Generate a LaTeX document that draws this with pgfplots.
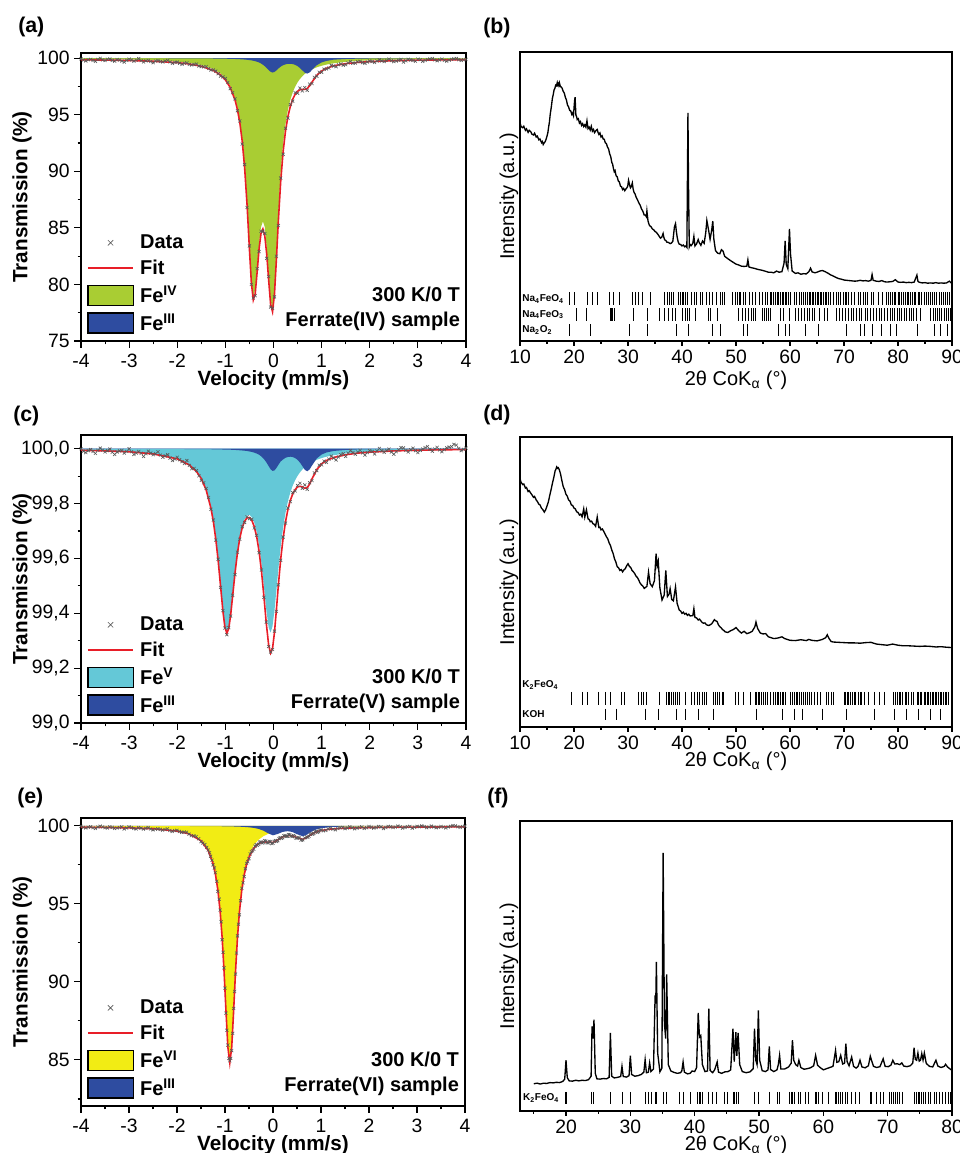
\documentclass[border=0pt]{standalone}
\usepackage{fontspec}
\setmainfont{Liberation Sans}
\setsansfont{Liberation Sans}
\usepackage{pgfplots}
\pgfplotsset{compat=1.18}
\usepackage{pgfplotstable}

\definecolor{fegreen}{RGB}{169,205,51}
\definecolor{feblue}{RGB}{46,76,160}
\definecolor{fecyan}{RGB}{100,200,215}
\definecolor{feyellow}{RGB}{242,236,20}
\definecolor{fitred}{RGB}{232,30,40}

\pgfplotsset{
  boxaxis/.style={scale only axis, tick pos=left, tick align=outside,
    axis line style={line width=0.9pt}, every tick/.style={black, line width=0.8pt},
    /pgf/number format/assume math mode=true,
    tick label style={font=\fontsize{14.5}{17}\selectfont}},
  moss/.style={boxaxis, width=288.75pt, height=216pt, xmin=-4, xmax=4,
    xtick={-4,-3,...,4}, minor xtick={-3.5,-2.5,...,3.5},
    major tick length=5pt, minor tick length=2.5pt,
    xticklabel style={yshift=-1.5pt},
    xlabel={Velocity (mm/s)}, ylabel={Transmission (\%)},
    label style={font=\bfseries\fontsize{15.5}{18}\selectfont},
    ylabel style={at={(axis description cs:-0.153,0.5)}, anchor=center},
    xlabel style={at={(axis description cs:0.5,-0.137)}, anchor=center},
    legend style={at={(axis description cs:0.015,0.022)}, anchor=south west,
      draw=none, fill=none, inner sep=0pt, row sep=4pt,
      font=\bfseries\fontsize{15}{18}\selectfont, nodes={inner sep=1.5pt},
      /tikz/column 1/.style={column sep=3pt}},
    legend cell align=left},
  xrd/.style={boxaxis, width=324pt, ymin=0, ymax=100, ytick=\empty,
    major tick length=3.5pt, minor tick length=2pt,
    xlabel={2θ CoK\textsubscript{α} (°)}, ylabel={Intensity (a.u.)},
    label style={font=\fontsize{15}{18}\selectfont},
    ylabel style={at={(axis description cs:-0.0255,0.5)}, anchor=center},
    xlabel style={at={(axis description cs:0.5,-0.118)}, anchor=center}},
  datastyle/.style={only marks, mark=x, mark size=1.6pt, black!65,
    mark options={line width=0.45pt}, forget plot},
  fitstyle/.style={fitred, line width=1.2pt, forget plot},
  tickrow/.style={only marks, mark=|, black, mark options={line width=0.6pt}, forget plot},
  xrdline/.style={black, line width=1pt, forget plot}
}
\tikzset{
  note/.style={anchor=south east, align=right, inner sep=0pt,
    font=\bfseries\fontsize{15}{18.75}\selectfont},
  phase/.style={anchor=west, inner sep=0pt, font=\bfseries\fontsize{7.5}{9}\selectfont},
  panel/.style={anchor=west, inner sep=0pt, font=\bfseries\fontsize{16}{19}\selectfont}
}

\newcommand{\mosslegend}[2]{%
  \addlegendimage{legend image code/.code={\draw[black!65,line width=0.5pt] (15pt,-2pt)--(19pt,2pt) (15pt,2pt)--(19pt,-2pt);}}
  \addlegendentry{Data}
  \addlegendimage{legend image code/.code={\draw[draw=fitred,line width=1.3pt] (0pt,0pt)--(34pt,0pt);}}
  \addlegendentry{Fit}
  \addlegendimage{legend image code/.code={\draw[fill=#1,draw=black,line width=1pt] (0pt,-7.5pt) rectangle (34pt,7.5pt);}}
  \addlegendentry{Fe\textsuperscript{#2}}
  \addlegendimage{legend image code/.code={\draw[fill=feblue,draw=black,line width=1pt] (0pt,-7.5pt) rectangle (34pt,7.5pt);}}
  \addlegendentry{Fe\textsuperscript{III}}}

% ---------- (a) Ferrate(IV): fit and sub-spectra (first/last rows close the fills at 100) ----------
\pgfplotstableread{
v fit grn blu
-4 nan 100 100
-4 99.85 99.946 99.994
-3.5 99.825 99.911 99.994
-3 99.79 99.876 99.9925
-2.5 99.72 99.8145 99.99
-2 99.60 99.692 99.984
-1.75 99.48 99.579 99.98
-1.5 99.28 99.389 99.974
-1.25 98.91 99.029 99.964
-1.1 98.51 98.632 99.955
-1 98.08 98.212 99.946
-0.9 97.41 97.558 99.936
-0.8 96.31 96.467 99.921
-0.75 95.46 95.631 99.912
-0.7 94.30 94.475 99.90
-0.65 92.66 92.845 99.89
-0.6 90.32 90.526 99.87
-0.55 87.08 87.31 99.85
-0.5 83.09 83.35 99.823
-0.46 80.15 80.43 99.80
-0.42 78.63 78.95 99.766
-0.38 79.18 79.54 99.726
-0.34 81.10 81.50 99.676
-0.30 83.14 83.61 99.611
-0.26 84.50 85.06 99.524
-0.22 84.90 85.56 99.416
-0.18 84.26 85.06 99.28
-0.14 82.64 83.2 99.115
-0.10 80.35 80.8 98.935
-0.06 78.25 78.6 98.788
-0.02 77.59 77.85 98.723
0.02 79.13 79.5 98.776
0.06 82.18 82.7 98.909
0.10 85.55 86.1 99.07
0.15 89.13 89.96 99.251
0.20 91.74 92.445 99.37
0.25 93.57 94.194 99.452
0.30 94.84 95.429 99.493
0.35 95.74 96.32 99.499
0.40 96.37 96.977 99.47
0.45 96.80 97.474 99.403
0.50 97.07 97.857 99.29
0.55 97.20 98.159 99.124
0.60 97.24 98.401 98.914
0.65 97.23 98.597 98.712
0.70 97.31 98.759 98.629
0.75 97.55 98.894 98.731
0.80 97.88 99.009 98.952
0.90 98.48 99.189 99.374
1.00 98.86 99.324 99.62
1.10 99.10 99.427 99.751
1.25 99.32 99.543 99.861
1.50 99.51 99.67 99.92
1.75 99.62 99.75 99.95
2.00 99.69 99.804 99.966
2.50 99.77 99.87 99.981
3.00 99.82 99.908 99.988
3.50 99.84 99.931 99.992
4.00 99.86 99.946 99.994
4 nan 100 100
}\tabA

\pgfplotstableread{
v t
-4.0 99.93
-3.95 99.82
-3.9 99.745
-3.85 99.86
-3.8 99.89
-3.75 99.79
-3.7 99.715
-3.65 99.88
-3.6 99.98
-3.55 99.84
-3.5 99.785
-3.45 99.90
-3.4 99.92
-3.35 99.80
-3.3 99.73
-3.25 99.87
-3.2 99.825
-3.15 99.74
-3.1 99.65
-3.05 99.80
-3.0 99.91
-2.95 99.84
-2.9 99.73
-2.85 99.82
-2.8 99.95
-2.75 99.78
-2.7 99.655
-2.65 99.76
-2.6 99.80
-2.55 99.70
-2.5 99.59
-2.45 99.74
-2.4 99.79
-2.35 99.70
-2.3 99.66
-2.25 99.75
-2.2 99.80
-2.15 99.66
-2.1 99.54
-2.05 99.63
-2.0 99.64
-1.95 99.55
-1.9 99.45
-1.85 99.55
-1.8 99.58
-1.75 99.44
-1.7 99.39
-1.65 99.44
-1.6 99.48
-1.55 99.30
-1.5 99.25
-1.45 99.23
-1.4 99.25
-1.35 99.08
-1.3 98.95
-1.25 98.96
-1.2 98.85
-1.15 98.62
-1.1 98.41
-1.05 98.34
-1.0 98.20
-0.95 97.85
-0.9 97.30
-0.85 96.95
-0.8 96.40
-0.75 95.35
-0.7 94.45
-0.65 92.40
-0.6 90.60
-0.55 86.80
-0.5 83.40
-0.46 80.00
-0.42 78.80
-0.38 79.00
-0.34 81.40
-0.30 82.90
-0.26 84.70
-0.22 84.70
-0.18 84.50
-0.14 82.30
-0.10 80.70
-0.06 78.00
-0.02 77.90
0.02 78.90
0.06 82.50
0.10 85.20
0.15 89.40
0.20 91.50
0.25 93.80
0.30 94.70
0.35 95.90
0.40 96.20
0.45 96.95
0.50 96.90
0.55 97.35
0.60 97.10
0.65 97.40
0.70 97.15
0.75 97.70
0.80 97.75
0.85 98.30
0.90 98.40
0.95 98.75
1.00 98.75
1.05 99.02
1.1 99.04
1.15 99.12
1.2 99.36
1.25 99.30
1.3 99.24
1.35 99.41
1.4 99.49
1.45 99.38
1.5 99.42
1.55 99.58
1.6 99.70
1.65 99.55
1.7 99.56
1.75 99.68
1.8 99.715
1.85 99.60
1.9 99.535
1.95 99.66
2.0 99.75
2.05 99.70
2.1 99.61
2.15 99.74
2.2 99.85
2.25 99.76
2.3 99.695
2.35 99.80
2.4 99.92
2.45 99.78
2.5 99.69
2.55 99.74
2.6 99.81
2.65 99.88
2.7 99.65
2.75 99.76
2.8 99.90
2.85 99.83
2.9 99.79
2.95 99.72
3.0 99.91
3.05 99.86
3.1 99.714
3.15 99.80
3.2 99.878
3.25 99.92
3.3 99.962
3.35 99.85
3.4 99.766
3.45 99.84
3.5 99.92
3.55 99.80
3.6 99.724
3.65 99.82
3.7 99.888
3.75 99.93
3.8 99.962
3.85 99.87
3.9 99.796
3.95 99.84
4.0 99.88
}\datA

% ---------- (c) Ferrate(V) ----------
\pgfplotstableread{
v fit cyn blu
-4 nan 100 100
-4 99.9945 99.9947 99.9998
-3.5 99.992 99.9926 99.9997
-3 99.989 99.9891 99.9996
-2.5 99.981 99.982 99.9994
-2 99.963 99.9642 99.9991
-1.75 99.941 99.9426 99.9989
-1.6 99.917 99.9183 99.9987
-1.5 99.891 99.8922 99.9985
-1.4 99.850 99.8516 99.9983
-1.3 99.783 99.7852 99.9981
-1.25 99.735 99.7366 99.998
-1.2 99.671 99.6738 99.9977
-1.15 99.592 99.5946 99.9975
-1.1 99.499 99.5021 99.9973
-1.05 99.406 99.4092 99.9971
-1.01 99.350 99.353 99.997
-0.97 99.327 99.3299 99.9967
-0.93 99.344 99.3471 99.9965
-0.89 99.394 99.3974 99.9963
-0.85 99.461 99.4649 99.996
-0.8 99.546 99.5508 99.9955
-0.75 99.619 99.6239 99.995
-0.7 99.674 99.6795 99.9943
-0.65 99.712 99.7187 99.9936
-0.6 99.736 99.7438 99.9927
-0.55 99.748 99.7568 99.9916
-0.5 99.749 99.7589 99.9901
-0.45 99.739 99.7503 99.9883
-0.4 99.716 99.7303 99.9857
-0.35 99.680 99.697 99.9825
-0.3 99.626 99.6482 99.978
-0.25 99.554 99.5821 99.9717
-0.2 99.463 99.5001 99.9629
-0.15 99.364 99.4135 99.9509
-0.1 99.283 99.3471 99.9362
-0.06 99.255 99.3299 99.9252
-0.02 99.272 99.353 99.9191
0.02 99.330 99.4092 99.9208
0.06 99.412 99.4829 99.9295
0.1 99.500 99.559 99.9408
0.15 99.598 99.6441 99.9538
0.2 99.674 99.7134 99.961
0.25 99.734 99.7673 99.9669
0.3 99.779 99.8089 99.970
0.35 99.812 99.8408 99.9709
0.4 99.835 99.8658 99.9696
0.45 99.851 99.8855 99.9659
0.5 99.861 99.9012 99.9595
0.55 99.863 99.9139 99.9495
0.6 99.861 99.9243 99.9364
0.65 99.856 99.9329 99.9233
0.7 99.858 99.9401 99.9178
0.75 99.871 99.9462 99.9245
0.8 99.890 99.9513 99.9387
0.9 99.924 99.9596 99.9647
1.0 99.945 99.966 99.9789
1.1 99.957 99.9709 99.9863
1.25 99.968 99.9764 99.9918
1.5 99.978 99.9826 99.9956
1.75 99.984 99.9867 99.9973
2 99.9875 99.9893 99.9982
2.5 99.992 99.9929 99.999
3 99.9945 99.9949 99.9994
3.5 99.996 99.9962 99.9996
4 99.997 99.997 99.9997
4 nan 100 100
}\tabC

\pgfplotstableread{
v t
-4.0 100.000
-3.95 99.991
-3.9 99.986
-3.85 99.993
-3.8 99.997
-3.75 99.990
-3.7 99.983
-3.65 99.994
-3.6 100.002
-3.55 99.995
-3.5 99.988
-3.45 99.993
-3.4 99.999
-3.35 99.987
-3.3 99.979
-3.25 99.988
-3.2 99.992
-3.15 99.994
-3.1 99.984
-3.05 99.990
-3.0 100.000
-2.95 99.989
-2.9 99.979
-2.85 99.984
-2.8 99.990
-2.75 99.983
-2.7 99.972
-2.65 99.982
-2.6 99.991
-2.55 99.984
-2.5 99.978
-2.45 99.982
-2.4 99.989
-2.35 99.977
-2.3 99.969
-2.25 99.974
-2.2 99.978
-2.15 99.966
-2.1 99.957
-2.05 99.962
-2.0 99.969
-1.95 99.960
-1.9 99.953
-1.85 99.946
-1.8 99.957
-1.75 99.939
-1.7 99.927
-1.65 99.928
-1.6 99.920
-1.55 99.901
-1.5 99.885
-1.45 99.876
-1.4 99.855
-1.35 99.822
-1.3 99.779
-1.25 99.740
-1.2 99.667
-1.15 99.597
-1.1 99.494
-1.05 99.410
-1.01 99.346
-0.97 99.322
-0.93 99.348
-0.89 99.390
-0.85 99.466
-0.8 99.541
-0.75 99.623
-0.7 99.670
-0.65 99.716
-0.6 99.731
-0.55 99.752
-0.5 99.745
-0.45 99.743
-0.4 99.711
-0.35 99.684
-0.3 99.621
-0.25 99.558
-0.2 99.458
-0.15 99.368
-0.1 99.279
-0.06 99.259
-0.02 99.268
0.02 99.335
0.06 99.407
0.1 99.504
0.15 99.593
0.2 99.678
0.25 99.729
0.3 99.784
0.35 99.807
0.4 99.840
0.45 99.846
0.5 99.866
0.55 99.874
0.6 99.856
0.65 99.868
0.7 99.852
0.75 99.876
0.8 99.884
0.85 99.912
0.9 99.920
0.95 99.940
1.0 99.941
1.05 99.955
1.1 99.950
1.15 99.962
1.2 99.973
1.25 99.966
1.3 99.959
1.35 99.970
1.4 99.978
1.45 99.982
1.5 99.972
1.55 99.984
1.6 99.993
1.65 99.986
1.7 99.980
1.75 99.988
1.8 99.994
1.85 99.985
1.9 99.977
1.95 99.986
2.0 99.993
2.05 99.990
2.1 99.981
2.15 99.992
2.2 100.001
2.25 99.993
2.3 99.987
2.35 99.994
2.4 99.999
2.45 99.988
2.5 99.980
2.55 99.989
2.6 99.996
2.65 100.004
2.7 100.003
2.75 99.994
2.8 99.988
2.85 99.996
2.9 100.002
2.95 99.993
3.0 99.986
3.05 99.994
3.1 99.999
3.15 100.004
3.2 100.008
3.25 99.998
3.3 99.991
3.35 99.999
3.4 100.005
3.45 99.996
3.5 99.989
3.55 99.997
3.6 100.003
3.65 100.006
3.7 100.008
3.75 100.016
3.8 100.013
3.85 100.001
3.9 99.993
3.95 99.998
4.0 100.002
}\datC

% ---------- (e) Ferrate(VI) ----------
\pgfplotstableread{
v fit yel blu
-4 nan 100 100
-4 99.912 99.965 99.998
-3.5 99.897 99.950 99.997
-3 99.869 99.923 99.996
-2.5 99.8125 99.8685 99.994
-2 99.665 99.724 99.991
-1.75 99.4825 99.544 99.9885
-1.5 99.047 99.112 99.985
-1.35 98.422 98.49 99.982
-1.25 97.586 97.657 99.979
-1.2 96.908 96.98 99.978
-1.15 95.929 96.003 99.976
-1.1 94.488 94.564 99.974
-1.06 92.859 92.937 99.972
-1.02 90.713 90.793 99.970
-0.98 88.162 88.243 99.969
-0.94 85.818 85.902 99.966
-0.9 84.814 84.90 99.964
-0.86 85.813 85.902 99.961
-0.82 88.15 88.243 99.957
-0.78 90.697 90.793 99.954
-0.74 92.836 92.937 99.949
-0.7 94.459 94.564 99.945
-0.65 95.89 96.003 99.937
-0.6 96.859 96.98 99.929
-0.55 97.525 97.657 99.918
-0.5 97.993 98.138 99.905
-0.4 98.57 98.753 99.867
-0.3 98.865 99.112 99.803
-0.2 98.977 99.337 99.69
-0.1 98.953 99.487 99.516
0 98.934 99.592 99.392
0.1 99.098 99.668 99.48
0.2 99.284 99.724 99.61
0.3 99.375 99.768 99.657
0.4 99.362 99.802 99.61
0.5 99.247 99.829 99.468
0.62 99.133 99.854 99.329
0.7 99.2425 99.8685 99.424
0.8 99.458 99.883 99.625
0.9 99.611 99.896 99.765
1.0 99.70 99.906 99.844
1.2 99.792 99.923 99.919
1.5 99.851 99.941 99.96
2 99.892 99.96 99.982
2.5 99.911 99.971 99.99
3 99.921 99.978 99.993
3.5 99.9275 99.9825 99.995
4 99.932 99.986 99.996
4 nan 100 100
}\tabE

\pgfplotstableread{
v t
-4.0 99.97
-3.95 99.90
-3.9 99.86
-3.85 99.91
-3.8 99.94
-3.75 99.88
-3.7 99.83
-3.65 99.92
-3.6 99.98
-3.55 99.93
-3.5 99.88
-3.45 99.86
-3.4 99.94
-3.35 99.90
-3.3 99.83
-3.25 99.86
-3.2 99.89
-3.15 99.94
-3.1 99.80
-3.05 99.86
-3.0 99.94
-2.95 99.89
-2.9 99.83
-2.85 99.80
-2.8 99.89
-2.75 99.85
-2.7 99.79
-2.65 99.84
-2.6 99.89
-2.55 99.80
-2.5 99.74
-2.45 99.79
-2.4 99.81
-2.35 99.77
-2.3 99.725
-2.25 99.76
-2.2 99.805
-2.15 99.70
-2.1 99.64
-2.05 99.69
-2.0 99.715
-1.95 99.64
-1.9 99.58
-1.85 99.60
-1.8 99.59
-1.75 99.47
-1.7 99.37
-1.65 99.36
-1.6 99.31
-1.55 99.17
-1.5 98.99
-1.46 98.90
-1.42 98.80
-1.38 98.62
-1.35 98.45
-1.32 98.28
-1.3 98.05
-1.27 97.80
-1.25 97.50
-1.22 97.30
-1.2 97.00
-1.17 96.45
-1.15 95.80
-1.12 95.30
-1.1 94.60
-1.08 93.85
-1.06 92.70
-1.04 91.90
-1.02 90.90
-1.0 89.60
-0.98 88.00
-0.96 86.90
-0.94 85.95
-0.92 85.10
-0.9 84.95
-0.88 85.10
-0.86 85.60
-0.84 86.70
-0.82 88.30
-0.8 89.40
-0.78 90.50
-0.76 91.85
-0.74 92.95
-0.72 93.70
-0.7 94.30
-0.675 95.20
-0.65 96.00
-0.625 96.35
-0.6 96.75
-0.575 97.25
-0.55 97.60
-0.525 97.70
-0.5 97.90
-0.475 98.20
-0.45 98.35
-0.425 98.40
-0.4 98.50
-0.375 98.70
-0.35 98.80
-0.325 98.75
-0.3 98.82
-0.275 98.95
-0.25 98.98
-0.225 98.90
-0.2 98.92
-0.175 99.05
-0.15 99.02
-0.125 98.92
-0.1 98.90
-0.075 99.00
-0.05 98.99
-0.025 98.86
0 98.88
0.025 99.00
0.05 99.06
0.075 99.00
0.1 99.05
0.125 99.18
0.15 99.25
0.175 99.20
0.2 99.24
0.225 99.36
0.25 99.38
0.275 99.32
0.3 99.33
0.325 99.44
0.35 99.42
0.375 99.33
0.4 99.31
0.425 99.38
0.45 99.33
0.475 99.22
0.5 99.20
0.525 99.26
0.55 99.22
0.585 99.08
0.62 99.10
0.66 99.22
0.7 99.29
0.725 99.26
0.75 99.33
0.775 99.45
0.8 99.50
0.825 99.46
0.85 99.51
0.875 99.62
0.9 99.65
0.925 99.58
0.95 99.62
0.975 99.72
1.0 99.74
1.05 99.68
1.1 99.705
1.15 99.80
1.2 99.85
1.25 99.78
1.3 99.745
1.35 99.83
1.4 99.875
1.45 99.90
1.5 99.82
1.55 99.86
1.6 99.94
1.65 99.87
1.7 99.81
1.75 99.85
1.8 99.90
1.85 99.93
1.9 99.835
1.95 99.88
2.0 99.96
2.05 99.91
2.1 99.855
2.15 99.89
2.2 99.96
2.25 99.93
2.3 99.825
2.35 99.89
2.4 99.96
2.45 99.94
2.5 99.89
2.55 99.92
2.6 99.985
2.65 99.94
2.7 99.855
2.75 99.90
2.8 99.95
2.85 99.96
2.9 99.85
2.95 99.91
3.0 99.97
3.05 99.94
3.1 100.00
3.15 99.95
3.2 99.88
3.25 99.92
3.3 99.985
3.35 99.93
3.4 99.875
3.45 99.90
3.5 99.96
3.55 99.92
3.6 99.86
3.65 99.93
3.7 99.97
3.75 100.01
3.8 100.00
3.85 99.94
3.9 99.90
3.95 99.95
4.0 99.98
}\datE

\begin{document}
\begin{tikzpicture}
\path[use as bounding box] (0pt,0pt) rectangle (720pt,-864.75pt);

% ===== (a) =====
\begin{axis}[moss, at={(60.75pt,-255.75pt)}, anchor=south west,
  ymin=75, ymax=100.45, ytick={75,80,85,90,95,100},
  minor ytick={77.5,82.5,87.5,92.5,97.5}]
\addplot[fill=fegreen, draw=none, forget plot] table[x=v,y=grn] {\tabA};
\addplot[fill=feblue, draw=none, forget plot] table[x=v,y=blu] {\tabA};
\addplot[datastyle] table[x=v,y=t] {\datA};
\addplot[fitstyle] table[x=v,y=fit] {\tabA};
\mosslegend{fegreen}{IV}
\node[note] at (rel axis cs:0.985,0.035) {300 K/0 T\\Ferrate(IV) sample};
\end{axis}

% ===== (c) =====
\begin{axis}[moss, at={(60.75pt,-542.25pt)}, anchor=south west,
  ymin=99.0, ymax=100.05, ytick={99.0,99.2,99.4,99.6,99.8,100.0},
  minor ytick={99.1,99.3,99.5,99.7,99.9},
  yticklabel style={/pgf/number format/.cd, fixed, fixed zerofill, precision=1, use comma}]
\addplot[fill=fecyan, draw=none, forget plot] table[x=v,y=cyn] {\tabC};
\addplot[fill=feblue, draw=none, forget plot] table[x=v,y=blu] {\tabC};
\addplot[datastyle] table[x=v,y=t] {\datC};
\addplot[fitstyle] table[x=v,y=fit] {\tabC};
\mosslegend{fecyan}{V}
\node[note] at (rel axis cs:0.985,0.035) {300 K/0 T\\Ferrate(V) sample};
\end{axis}

% ===== (e) =====
\begin{axis}[moss, at={(60.75pt,-829.5pt)}, anchor=south west, width=288pt,
  ymin=82.05, ymax=100.5, ytick={85,90,95,100},
  minor ytick={82.5,87.5,92.5,97.5},
  xlabel style={at={(axis description cs:0.5,-0.136)}}]
\addplot[fill=feyellow, draw=none, forget plot] table[x=v,y=yel] {\tabE};
\addplot[fill=feblue, draw=none, forget plot] table[x=v,y=blu] {\tabE};
\addplot[datastyle] table[x=v,y=t] {\datE};
\addplot[fitstyle] table[x=v,y=fit] {\tabE};
\mosslegend{feyellow}{VI}
\node[note] at (rel axis cs:0.985,0.035) {300 K/0 T\\Ferrate(VI) sample};
\end{axis}

% ===== (b) =====
\begin{axis}[xrd, at={(390pt,-255.75pt)}, anchor=south west, height=216.75pt,
  xmin=10, xmax=90, xtick={10,20,...,90}, minor xtick={15,25,...,85},
  xlabel style={at={(axis description cs:0.5,-0.135)}}]
\addplot[xrdline] coordinates {
(10,75.5) (10.2,74.2) (10.5,73.8) (10.7,74.3) (11,72.9) (11.2,73.4) (11.5,72.2) (11.7,72.9)
(12,72.4) (12.2,71.6) (12.5,71.3) (12.7,71.9) (13,70.6) (13.2,70.9) (13.5,69.6) (13.7,69.9)
(14,68.6) (14.15,69.0) (14.3,68.0) (14.45,68.5) (14.6,68.8) (14.8,69.6) (15,70.9) (15.15,72.0)
(15.3,74.0) (15.45,75.8) (15.6,78.5) (15.8,81.0) (16,84.0) (16.15,85.2) (16.3,86.8) (16.45,87.4)
(16.6,88.5) (16.75,88.3) (16.9,89.4) (17.0,88.6) (17.1,89.0) (17.2,88.4) (17.3,89.3) (17.45,88.2)
(17.6,87.9) (17.8,87.5) (18,86.4) (18.2,85.8) (18.4,84.3) (18.6,83.4) (18.8,81.6) (19,81.0)
(19.2,79.8) (19.4,79.6) (19.6,78.4) (19.75,78.9) (19.9,78.0) (20.1,83.0) (20.2,84.4) (20.35,78.2)
(20.5,77.5) (20.6,76.6) (20.8,76.9) (21,75.4) (21.2,75.9) (21.4,74.6) (21.6,75.2) (21.8,74.2)
(22.0,74.8) (22.2,74.0) (22.4,76.2) (22.6,73.5) (22.8,74.0) (23,73.0) (23.2,74.3) (23.4,72.6)
(23.6,73.2) (23.8,72.1) (24.1,72.9) (24.3,73.2) (24.45,72.2) (24.6,71.5) (24.8,72.0) (25,70.6)
(25.2,71.0) (25.4,69.9) (25.6,69.8) (25.8,68.6) (26.0,68.3) (26.2,67.1) (26.4,66.5) (26.6,64.8)
(26.8,63.8) (27,61.8) (27.15,61.2) (27.3,59.7) (27.45,58.6) (27.6,59.0) (27.7,58.0) (27.8,57.2)
(28.0,56.8) (28.2,55.4) (28.4,55.0) (28.6,53.6) (28.8,53.4) (29,52.4) (29.2,52.8) (29.4,52.0)
(29.6,52.6) (29.8,53.0) (29.95,53.6) (30.1,55.6) (30.3,54.0) (30.45,53.0) (30.6,53.4) (30.8,54.7)
(30.95,52.6) (31.1,51.5) (31.3,50.9) (31.5,49.8) (31.75,48.9) (32,47.8) (32.25,47.0) (32.5,45.7)
(32.75,44.9) (33,43.6) (33.2,43.6) (33.4,43.0) (33.5,45.0) (33.7,41.6) (33.85,40.6) (34,39.9)
(34.25,39.6) (34.5,38.8) (34.75,38.5) (35,37.9) (35.25,37.6) (35.5,37.0) (35.75,36.3) (36,35.6)
(36.25,35.9) (36.5,37.2) (36.65,35.8) (36.8,35.0) (37.0,34.8) (37.2,34.2) (37.5,34.1) (37.8,33.7)
(38.05,33.9) (38.3,34.5) (38.6,39.5) (38.8,40.6) (38.95,38.0) (39.1,36.0) (39.3,34.2) (39.5,33.5)
(39.75,33.4) (40,32.9) (40.25,33.2) (40.5,32.6) (40.7,32.9) (40.9,32.4) (41.0,55.0) (41.1,78.9)
(41.2,55.0) (41.35,32.6) (41.5,33.4) (41.7,33.0) (42.0,33.8) (42.2,36.2) (42.4,32.9) (42.7,33.6)
(43.0,35.1) (43.2,34.0) (43.5,33.1) (43.8,34.6) (44.1,33.8) (44.4,37.5) (44.6,41.7) (44.9,38.6)
(45.2,35.2) (45.5,38.4) (45.7,41.5) (45.9,35.2) (46.2,31.3) (46.6,30.4) (47.0,30.2) (47.3,31.6)
(47.6,31.1) (47.9,29.3) (48.4,28.6) (49,27.8) (49.5,27.2) (50,26.6) (50.5,26.3) (51,25.9)
(51.5,25.8) (52,25.9) (52.2,28.1) (52.4,25.6) (53,25.3) (53.5,25.1) (54,24.8) (54.5,24.6)
(55,24.4) (55.5,24.1) (56,23.8) (56.5,23.8) (57,23.6) (57.5,24.2) (58,23.8) (58.5,24.0)
(58.9,27.0) (59.1,34.6) (59.3,26.5) (59.6,25.0) (59.9,38.8) (60.1,30.0) (60.4,24.2) (61,23.4)
(61.5,23.6) (62,23.1) (62.5,23.3) (63,23.2) (63.5,24.0) (63.8,25.2) (64.1,23.9) (64.6,23.6)
(65,23.8) (65.5,24.2) (66,24.4) (66.5,24.0) (67,23.5) (67.5,22.9) (68,22.5) (68.5,22.0)
(69,21.6) (69.5,21.4) (70,21.1) (70.5,21.0) (71,20.9) (71.5,20.8) (72,20.7) (72.5,20.8)
(73,21.0) (73.5,20.8) (74,20.9) (74.5,20.7) (75,21.0) (75.2,23.0) (75.4,21.0) (76,20.7)
(76.5,20.6) (77,20.9) (77.5,20.5) (78,20.4) (78.5,20.5) (79,20.6) (79.5,21.2) (80,20.4)
(80.5,20.3) (81,20.4) (81.5,20.2) (82,20.3) (82.5,20.2) (83,20.4) (83.5,22.8) (83.7,20.6)
(84,20.3) (84.5,20.1) (85,20.2) (85.5,20.0) (86,20.1) (86.5,20.0) (87,20.2) (87.5,20.0)
(88,20.1) (88.5,20.0) (89,20.1) (89.5,20.7) (90,19.9)};
\addplot[tickrow, mark size=4.8pt] table[row sep=\\, x=p, y expr=14.6] {p\\
19.2\\ 20.1\\ 22.4\\ 23.4\\ 24.3\\ 26.5\\ 27.3\\ 28.4\\ 30.8\\ 31.4\\ 32.0\\ 32.7\\ 34.2\\
36.7\\ 37.3\\ 37.6\\ 38.0\\ 38.4\\ 39.3\\ 39.7\\ 40.0\\ 40.3\\ 40.7\\ 41.0\\ 41.7\\ 42.3\\
42.6\\ 43.4\\ 43.8\\ 44.5\\ 45.0\\ 45.6\\ 46.4\\ 47.1\\ 47.5\\ 47.8\\ 49.4\\ 49.8\\ 50.3\\
50.6\\ 50.9\\ 51.3\\ 51.7\\ 52.4\\ 53.0\\ 53.6\\ 54.4\\ 54.8\\ 55.4\\ 55.9\\ 56.3\\ 56.6\\
57.0\\ 57.3\\ 57.6\\ 57.9\\ 58.2\\ 58.5\\ 58.8\\ 59.1\\ 59.4\\ 59.7\\ 60.1\\ 60.8\\ 61.2\\
61.8\\ 62.2\\ 62.5\\ 62.8\\ 63.2\\ 63.5\\ 63.8\\ 64.1\\ 64.4\\ 64.7\\ 65.0\\ 65.3\\ 65.6\\
65.9\\ 66.2\\ 66.5\\ 66.8\\ 67.1\\ 67.5\\ 68.0\\ 68.6\\ 69.0\\ 69.4\\ 69.8\\ 70.2\\ 70.5\\
70.9\\ 71.4\\ 72.0\\ 72.6\\ 73.1\\ 73.6\\ 74.0\\ 74.4\\ 75.0\\ 75.5\\ 76.4\\ 77.2\\ 77.8\\
78.3\\ 78.6\\ 78.9\\ 79.3\\ 79.6\\ 80.0\\ 80.3\\ 80.7\\ 81.0\\ 81.3\\ 81.7\\ 82.0\\ 82.3\\
82.7\\ 83.0\\ 83.3\\ 83.7\\ 84.0\\ 84.4\\ 84.8\\ 85.2\\ 85.6\\ 86.0\\ 86.4\\ 86.8\\ 87.2\\
87.6\\ 88.0\\ 88.4\\ 88.8\\ 89.2\\ 89.6\\};
\addplot[tickrow, mark size=4.8pt] table[row sep=\\, x=p, y expr=9.2] {p\\
20.5\\ 22.3\\ 26.8\\ 27.0\\ 27.2\\ 27.4\\ 31.0\\ 33.6\\ 35.8\\ 36.8\\ 37.5\\ 38.2\\ 38.8\\
40.0\\ 40.6\\ 41.0\\ 41.4\\ 42.5\\ 44.8\\ 45.3\\ 46.6\\ 50.5\\ 51.2\\ 51.8\\ 52.3\\ 52.9\\
53.2\\ 53.6\\ 54.8\\ 55.2\\ 55.6\\ 56.0\\ 56.3\\ 58.3\\ 58.8\\ 59.8\\ 61.0\\ 61.6\\ 62.2\\
62.7\\ 63.2\\ 63.6\\ 64.1\\ 64.5\\ 65.4\\ 66.3\\ 66.9\\ 68.6\\ 69.2\\ 69.7\\ 70.3\\ 70.8\\
71.3\\ 71.8\\ 72.3\\ 72.8\\ 73.3\\ 73.9\\ 74.4\\ 74.9\\ 75.4\\ 76.0\\ 76.6\\ 77.0\\ 77.5\\
78.1\\ 78.6\\ 79.0\\ 79.4\\ 79.8\\ 80.2\\ 80.6\\ 81.1\\ 81.6\\ 82.1\\ 82.5\\ 82.9\\ 83.4\\
84.2\\ 86.0\\ 86.5\\ 86.9\\ 87.3\\ 87.7\\ 88.1\\ 88.5\\ 88.9\\ 89.3\\ 89.7\\};
\addplot[tickrow, mark size=4.3pt] table[row sep=\\, x=p, y expr=3.75] {p\\
19.2\\ 23.1\\ 30.2\\ 33.6\\ 39.0\\ 41.2\\ 45.7\\ 47.2\\ 51.4\\ 52.2\\ 57.9\\ 59.1\\ 59.8\\
62.8\\ 65.2\\ 70.4\\ 73.0\\ 73.7\\ 75.2\\ 77.0\\ 78.5\\ 79.7\\ 83.5\\ 86.7\\ 87.8\\ 89.1\\};
\node[phase] at (axis cs:10.4,14.6) {Na\textsubscript{4}FeO\textsubscript{4}};
\node[phase] at (axis cs:10.4,9.2) {Na\textsubscript{4}FeO\textsubscript{3}};
\node[phase] at (axis cs:10.4,3.75) {Na\textsubscript{2}O\textsubscript{2}};
\end{axis}

% ===== (d) =====
\begin{axis}[xrd, at={(390pt,-545.25pt)}, anchor=south west, height=217.5pt,
  xmin=10, xmax=90, xtick={10,20,...,90}, minor xtick={15,25,...,85}]
\addplot[xrdline] coordinates {
(10,85.6) (10.2,84.4) (10.5,83.6) (10.7,83.8) (11,82.4) (11.2,82.6) (11.5,81.2) (11.7,81.5)
(12,80.6) (12.2,80.1) (12.5,79.2) (12.7,79.5) (13,78.3) (13.2,77.8) (13.5,76.8) (13.7,76.6)
(14,75.4) (14.25,74.9) (14.5,74.1) (14.75,74.9) (15,76.2) (15.25,77.6) (15.5,79.8) (15.75,81.8)
(16,84.0) (16.25,86.0) (16.5,88.3) (16.65,88.9) (16.8,89.7) (16.95,89.2) (17.1,89.4) (17.3,88.6)
(17.5,87.3) (17.75,85.0) (18,82.9) (18.25,81.9) (18.5,80.3) (18.75,79.6) (19,78.3) (19.25,77.9)
(19.5,76.6) (19.75,76.4) (20,75.5) (20.25,75.2) (20.5,74.2) (20.75,74.0) (21,73.1) (21.25,73.4)
(21.5,72.5) (21.8,75.2) (22.0,72.4) (22.3,74.9) (22.6,71.8) (22.8,71.6) (23,70.8) (23.25,71.0)
(23.5,70.1) (23.75,69.9) (24,69.2) (24.3,72.4) (24.6,68.8) (24.8,68.9) (25,68.0) (25.25,68.3)
(25.5,67.5) (25.75,66.6) (26,65.6) (26.25,64.9) (26.5,63.5) (26.75,62.6) (27,61.0) (27.25,59.8)
(27.5,58.0) (27.75,56.9) (28,55.3) (28.25,54.9) (28.5,54.0) (28.75,54.3) (29,53.5) (29.25,54.2)
(29.5,54.6) (29.75,55.6) (30,56.3) (30.25,55.4) (30.5,55.0) (30.75,54.0) (31,53.5) (31.25,52.9)
(31.5,52.0) (31.75,51.5) (32,50.6) (32.25,49.6) (32.5,49.0) (32.75,48.6) (33,47.8) (33.5,48.5)
(33.8,53.4) (34.1,49.4) (34.5,48.4) (34.9,50.5) (35.2,59.8) (35.4,55.5) (35.6,57.2) (35.9,48.0)
(36.3,43.8) (36.7,45.5) (37.0,54.0) (37.3,45.0) (37.6,45.8) (37.8,47.7) (38.1,44.0) (38.4,43.5)
(38.8,48.3) (39.1,42.6) (39.5,40.3) (39.75,40.0) (40,39.2) (40.25,39.6) (40.5,38.9) (40.75,39.2)
(41,38.5) (41.25,38.9) (41.5,38.3) (42,38.4) (42.2,40.8) (42.4,37.8) (42.7,37.6) (43,36.9)
(43.25,37.2) (43.5,36.6) (43.75,36.0) (44,35.8) (44.25,35.9) (44.5,35.3) (44.75,35.1) (45,35.0)
(45.5,35.6) (46,37.0) (46.25,36.6) (46.5,36.4) (46.75,35.2) (47,34.6) (47.25,34.2) (47.5,33.6)
(47.75,33.3) (48,32.8) (48.5,32.6) (49,33.2) (49.5,33.6) (50,34.3) (50.5,33.2) (51,32.4)
(51.5,33.0) (52,32.2) (52.5,32.5) (53,33.0) (53.5,34.6) (53.7,36.2) (54,34.0) (54.5,32.4)
(55,32.1) (55.5,32.2) (56,31.1) (56.5,30.8) (57,30.5) (57.5,30.6) (58,30.8) (58.5,31.1)
(59,30.5) (59.5,30.2) (60,29.9) (61,29.8) (62,30.1) (63,29.8) (63.5,30.2) (64,29.9)
(65,29.7) (66,30.2) (66.6,30.8) (66.9,31.8) (67.2,30.6) (67.6,29.5) (68,29.3) (69,29.2)
(70,29.1) (71,29.0) (72,29.0) (73,28.9) (74,29.1) (75,29.2) (76,28.6) (77,28.4)
(78,28.2) (79,28.6) (80,28.2) (81,28.0) (82,28.0) (83,27.9) (84,27.8) (85,27.9)
(86,27.8) (87,27.6) (88,27.7) (89,27.5) (90,27.4)};
\addplot[tickrow, mark size=5pt] table[row sep=\\, x=p, y expr=9.8] {p\\
19.5\\ 21.5\\ 22.5\\ 24.5\\ 25.9\\ 26.8\\ 28.8\\ 29.3\\ 31.9\\ 32.4\\ 32.9\\ 33.4\\ 35.9\\
37.1\\ 37.4\\ 37.7\\ 38.1\\ 38.4\\ 38.8\\ 39.2\\ 39.6\\ 40.7\\ 41.8\\ 42.3\\ 42.8\\ 43.2\\
43.7\\ 44.2\\ 44.6\\ 45.8\\ 46.2\\ 46.6\\ 47.0\\ 47.4\\ 47.7\\ 49.8\\ 50.4\\ 51.4\\ 52.6\\
53.5\\ 53.8\\ 54.1\\ 54.4\\ 54.7\\ 55.0\\ 55.4\\ 55.8\\ 56.3\\ 56.9\\ 57.3\\ 57.6\\ 57.9\\
58.2\\ 58.5\\ 58.8\\ 59.1\\ 60.0\\ 60.4\\ 60.8\\ 61.1\\ 61.4\\ 61.7\\ 62.1\\ 62.4\\ 62.8\\
63.2\\ 63.6\\ 64.0\\ 64.5\\ 65.0\\ 65.6\\ 66.8\\ 67.2\\ 67.7\\ 68.1\\ 70.0\\ 70.3\\ 70.6\\
70.9\\ 71.2\\ 71.5\\ 71.9\\ 72.2\\ 72.6\\ 73.0\\ 73.3\\ 73.7\\ 74.6\\ 75.6\\ 76.5\\ 77.4\\
79.2\\ 79.5\\ 79.8\\ 80.2\\ 80.5\\ 80.9\\ 81.3\\ 81.6\\ 82.0\\ 82.5\\ 82.9\\ 83.5\\ 83.8\\
84.1\\ 84.4\\ 84.8\\ 85.1\\ 85.4\\ 85.7\\ 86.0\\ 86.3\\ 86.6\\ 86.9\\ 87.2\\ 87.5\\ 87.8\\
88.1\\ 88.4\\ 88.7\\ 89.0\\ 89.4\\};
\addplot[tickrow, mark size=4.35pt] table[row sep=\\, x=p, y expr=4.3] {p\\
25.9\\ 27.9\\ 33.2\\ 35.6\\ 38.9\\ 40.7\\ 43.0\\ 45.8\\ 53.7\\ 58.5\\ 60.8\\ 62.3\\ 66.0\\
70.5\\ 75.7\\ 79.4\\ 81.5\\ 83.7\\ 86.0\\ 87.9\\};
\node[phase] at (axis cs:10.4,14.4) {K\textsubscript{2}FeO\textsubscript{4}};
\node[phase] at (axis cs:10.4,4.3) {KOH};
\end{axis}

% ===== (f) =====
\begin{axis}[xrd, at={(390pt,-833.25pt)}, anchor=south west, height=217.5pt,
  xmin=12.85, xmax=80, xtick={20,30,...,80}, minor xtick={15,25,...,75}]
\addplot[xrdline] coordinates {
(15,9.4) (15.5,9.6) (16,9.3) (16.5,9.6) (17,9.5) (17.5,9.8) (18,9.7) (18.5,9.9) (19,9.8)
(19.5,10.2) (19.8,11.0) (20.0,17.5) (20.2,11.5) (20.5,10.4) (21,10.3) (21.5,10.6) (22,10.4)
(22.5,10.6) (23,10.5) (23.5,10.8) (23.9,12.0) (24.05,29.2) (24.2,25.0) (24.35,31.5) (24.55,13.0)
(24.8,11.1) (25.3,11.0) (25.8,11.2) (26.3,11.1) (26.7,11.6) (26.9,26.9) (27.1,12.0) (27.5,11.4)
(28,11.6) (28.5,11.9) (28.7,15.4) (28.9,11.9) (29.4,11.7) (29.8,12.2) (30.0,19.1) (30.2,12.6)
(30.7,12.0) (31.2,12.2) (31.7,12.6) (32.1,13.4) (32.3,17.7) (32.5,13.2) (32.8,13.4) (33.0,16.6)
(33.2,13.6) (33.6,14.5) (33.85,39.9) (33.95,37.0) (34.05,51.4) (34.25,20.0) (34.6,13.5) (34.9,14.8)
(35.1,89.0) (35.3,30.0) (35.5,25.0) (35.65,47.1) (35.9,16.0) (36.3,13.8) (36.8,13.3) (37.3,13.0)
(37.8,13.2) (38.0,13.8) (38.2,16.9) (38.4,13.4) (38.9,12.8) (39.3,13.0) (39.6,13.8) (40.0,13.6)
(40.3,15.0) (40.55,33.8) (40.75,25.5) (40.95,26.0) (41.2,16.0) (41.6,13.6) (42.0,13.8) (42.2,35.3)
(42.4,14.0) (42.8,13.2) (43.1,14.2) (43.5,16.9) (43.7,13.4) (44.2,13.0) (44.7,13.5) (45.2,13.6)
(45.6,14.2) (45.95,28.4) (46.15,17.0) (46.4,27.2) (46.55,19.0) (46.75,26.9) (47.0,16.0) (47.4,13.6)
(48.0,13.2) (48.6,13.5) (49.1,14.6) (49.3,28.4) (49.5,17.5) (49.7,16.0) (49.9,34.7) (50.1,17.5)
(50.5,13.9) (51.0,13.6) (51.4,14.2) (51.6,22.3) (51.8,14.3) (52.3,13.6) (52.8,14.2) (53.0,16.0)
(53.2,19.2) (53.4,14.5) (54.0,14.5) (54.6,15.2) (55.0,16.5) (55.2,24.4) (55.4,17.5) (55.7,16.0)
(56.0,15.5) (56.2,17.5) (56.5,15.0) (57.0,14.4) (57.5,14.6) (58.0,14.9) (58.5,15.6) (58.8,19.2)
(59.1,15.8) (59.5,15.0) (60.0,14.2) (60.5,14.6) (61.0,15.0) (61.5,15.4) (61.9,20.9) (62.1,16.8)
(62.4,17.0) (62.7,19.2) (63.0,16.2) (63.3,16.5) (63.5,23.2) (63.7,17.0) (64.0,15.6) (64.4,18.6)
(64.7,15.4) (65.1,14.8) (65.4,15.4) (65.7,17.5) (66.0,15.2) (66.5,14.9) (67.0,15.6) (67.3,18.9)
(67.5,17.4) (67.8,15.4) (68.3,15.0) (68.8,15.3) (69.3,18.0) (69.6,15.4) (70.1,15.3) (70.5,15.8)
(70.8,17.5) (71.1,16.2) (71.5,16.3) (71.9,16.0) (72.2,16.6) (72.5,15.5) (73.0,15.3) (73.5,15.6)
(73.9,16.5) (74.1,21.8) (74.3,17.8) (74.5,17.5) (74.7,20.0) (74.9,17.2) (75.1,17.5) (75.3,19.8)
(75.5,17.6) (75.7,20.0) (76.0,16.4) (76.5,15.4) (77.0,15.2) (77.5,17.5) (77.8,15.5) (78.3,15.0)
(78.8,15.4) (79.0,16.1) (79.3,15.2) (79.7,14.5) (80,14.0)};
\addplot[tickrow, mark size=4.7pt] table[row sep=\\, x=p, y expr=4.45] {p\\
19.9\\ 20.1\\ 24.0\\ 24.3\\ 26.9\\ 28.7\\ 30.0\\ 32.3\\ 32.8\\ 33.3\\ 33.9\\ 34.1\\ 35.1\\
35.6\\ 37.6\\ 38.2\\ 39.3\\ 40.5\\ 40.7\\ 40.9\\ 41.2\\ 42.2\\ 42.7\\ 43.3\\ 44.6\\ 45.1\\
46.0\\ 46.2\\ 46.5\\ 46.8\\ 49.3\\ 49.9\\ 51.6\\ 52.8\\ 53.2\\ 54.8\\ 55.0\\ 55.2\\ 55.5\\
56.2\\ 56.5\\ 57.2\\ 57.6\\ 58.7\\ 58.9\\ 59.3\\ 59.9\\ 60.8\\ 61.9\\ 62.1\\ 62.4\\ 62.7\\
63.0\\ 63.5\\ 63.8\\ 64.4\\ 65.0\\ 65.6\\ 67.3\\ 67.5\\ 68.2\\ 68.8\\ 69.4\\ 70.3\\ 70.6\\
70.9\\ 71.2\\ 71.5\\ 71.9\\ 72.3\\ 74.1\\ 74.4\\ 74.7\\ 75.0\\ 75.3\\ 75.6\\ 75.9\\ 76.3\\
76.7\\ 77.2\\ 77.6\\ 78.1\\ 78.5\\ 79.0\\ 79.4\\ 79.8\\};
\node[phase] at (axis cs:13.3,4.45) {K\textsubscript{2}FeO\textsubscript{4}};
\end{axis}

% panel letters
\node[panel] at (13.5pt,-20.25pt) {(a)};
\node[panel] at (362.25pt,-21pt) {(b)};
\node[panel] at (9.75pt,-312pt) {(c)};
\node[panel] at (362.25pt,-311.25pt) {(d)};
\node[panel] at (12.75pt,-598.5pt) {(e)};
\node[panel] at (365.25pt,-598.5pt) {(f)};
\end{tikzpicture}
\end{document}
